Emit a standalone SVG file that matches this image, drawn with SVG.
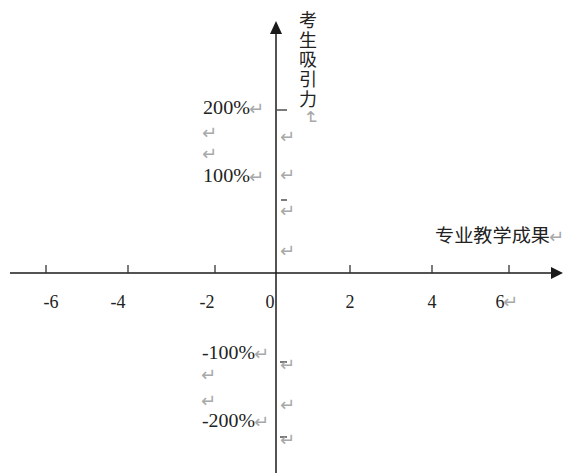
<svg xmlns="http://www.w3.org/2000/svg" width="565" height="473" viewBox="0 0 565 473">
<style>
.ax{stroke:#1a1a1a;stroke-width:1.5;fill:none}
.tk{stroke:#333;stroke-width:1.3}
.n{font-family:"Liberation Serif","Times New Roman",serif;font-size:18px;fill:#222}
.c{font-family:"Noto Sans CJK SC","DejaVu Sans",sans-serif;font-size:18px;fill:#222}
.r{font-family:"DejaVu Sans",sans-serif;font-size:18px;fill:#a8a8a8}
</style>
<rect width="565" height="473" fill="#fff"/>
<g id="axes">
<line class="ax" x1="10" y1="273" x2="553" y2="273"/>
<polygon points="563,273 551,267 551,279" fill="#1a1a1a"/>
<line class="ax" x1="276" y1="32" x2="276" y2="473"/>
<polygon points="276,21 270,34 282,34" fill="#1a1a1a"/>
<line class="tk" x1="46" y1="265" x2="46" y2="273"/>
<line class="tk" x1="128" y1="265" x2="128" y2="273"/>
<line class="tk" x1="215" y1="265" x2="215" y2="273"/>
<line class="tk" x1="350" y1="265" x2="350" y2="273"/>
<line class="tk" x1="432" y1="265" x2="432" y2="273"/>
<line class="tk" x1="509" y1="265" x2="509" y2="273"/>
<line class="tk" x1="277" y1="110" x2="287" y2="110"/>
<line class="tk" x1="281" y1="200" x2="287" y2="200"/>
<line class="tk" x1="280" y1="362" x2="287" y2="362"/>
<line class="tk" x1="280" y1="437" x2="287" y2="437"/>
</g>
<g id="x-labels">
<text class="n" x="51" y="308" text-anchor="middle">-6</text>
<text class="n" x="118" y="308" text-anchor="middle">-4</text>
<text class="n" x="207" y="308" text-anchor="middle">-2</text>
<text class="n" x="270" y="308" text-anchor="middle">0</text>
<text class="n" x="350" y="308" text-anchor="middle">2</text>
<text class="n" x="432" y="308" text-anchor="middle">4</text>
<text class="n" x="500" y="308" text-anchor="middle">6</text>
<text class="r" x="503" y="308">↵</text>
</g>
<g id="y-labels">
<text class="n" x="203" y="114" textLength="47" lengthAdjust="spacingAndGlyphs">200%</text>
<text class="r" x="249" y="115">↵</text>
<text class="r" x="202" y="139">↵</text>
<text class="r" x="202" y="160">↵</text>
<text class="n" x="203" y="182" textLength="47" lengthAdjust="spacingAndGlyphs">100%</text>
<text class="r" x="249" y="183">↵</text>
<text class="n" x="202" y="359" textLength="53" lengthAdjust="spacingAndGlyphs">-100%</text>
<text class="r" x="254" y="360">↵</text>
<text class="r" x="201" y="381">↵</text>
<text class="r" x="201" y="407">↵</text>
<text class="n" x="202" y="427" textLength="53" lengthAdjust="spacingAndGlyphs">-200%</text>
<text class="r" x="254" y="428">↵</text>
</g>
<g id="marks">
<text class="r" x="280" y="143">↵</text>
<text class="r" x="280" y="181">↵</text>
<text class="r" x="280" y="217">↵</text>
<text class="r" x="280" y="257">↵</text>
<text class="r" x="280" y="371">↵</text>
<text class="r" x="280" y="411">↵</text>
<text class="r" x="280" y="446">↵</text>
<text class="r" x="303" y="124" transform="rotate(90 311 118)">↵</text>
</g>
<g id="y-title">
<text class="c" x="308" y="11" style="writing-mode:vertical-rl;letter-spacing:1.7px">考生吸引力</text>
</g>
<g id="x-title">
<text class="c" x="435" y="242" textLength="115" lengthAdjust="spacingAndGlyphs">专业教学成果</text>
<text class="r" x="549" y="243">↵</text>
</g>
</svg>
